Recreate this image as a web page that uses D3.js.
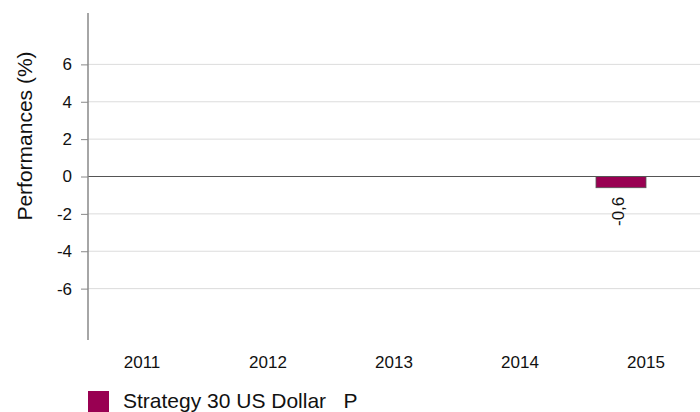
<!DOCTYPE html>
<html>
<head>
<meta charset="utf-8">
<script src="https://cdn.jsdelivr.net/npm/d3@7"></script>
<style>
  body { margin: 0; background: #fff; }
  svg { display: block; font-family: Arial, "Liberation Sans", sans-serif; }
</style>
</head>
<body>
<svg id="chart" width="700" height="412"></svg>
<script>
// data
const years = ["2011", "2012", "2013", "2014", "2015"]
const performances = [null, null, null, null, -0.6]
const yTicks = [-6, -4, -2, 0, 2, 4, 6]
const seriesName = "Strategy 30 US Dollar   P"

const width = 700, height = 412
const svg = d3.select("#chart")
const barColor = "#990052"

const x = d3.scalePoint().domain(years).range([142, 646])
const y = d3.scaleLinear().domain([-8.75, 8.75]).range([340, 13])
const barW = 50

// grid lines
svg.append("g")
    .selectAll("line")
    .data(yTicks.filter(d => d !== 0))
    .enter()
    .append("line")
    .attr("x1", 88).attr("x2", width)
    .attr("y1", d => y(d)).attr("y2", d => y(d))
    .attr("stroke", "#dcdcdc")
    .attr("stroke-width", 1)

// bars
const bars = years.map((yr, i) => ({ year: yr, value: performances[i] })).filter(d => d.value !== null)

svg.append("g")
    .selectAll("rect")
    .data(bars)
    .enter()
    .append("rect")
    .attr("x", d => x(d.year) - barW)
    .attr("y", d => y(Math.max(0, d.value)))
    .attr("width", barW)
    .attr("height", d => Math.abs(y(d.value) - y(0)))
    .attr("fill", barColor)
    .attr("stroke", "#555")
    .attr("stroke-width", 0.8)

// zero line
svg.append("line")
    .attr("x1", 88).attr("x2", width)
    .attr("y1", y(0)).attr("y2", y(0))
    .attr("stroke", "#555")
    .attr("stroke-width", 1)

// value labels
svg.append("g")
    .selectAll("text")
    .data(bars)
    .enter()
    .append("text")
    .attr("transform", d => `translate(${x(d.year) - barW / 2 - 1},${y(d.value) + 9}) rotate(-90)`)
    .attr("text-anchor", "end")
    .attr("dominant-baseline", "middle")
    .attr("font-size", 17)
    .attr("fill", "#111")
    .text(d => String(d.value).replace(".", ","))

// y axis
const yAxis = svg.append("g")
    .attr("transform", "translate(88,0)")
    .call(d3.axisLeft(y).tickValues(yTicks).tickSize(7).tickPadding(9).tickFormat(d => String(d)))
yAxis.select(".domain").attr("d", `M0,${y.range()[0]}V${y.range()[1]}`).attr("stroke", "#888").attr("stroke-width", 1.5)
yAxis.selectAll(".tick line").attr("stroke", "#888")
yAxis.selectAll(".tick text").attr("font-size", 17).attr("fill", "#111").attr("font-family", "Arial, 'Liberation Sans', sans-serif")

// y title
svg.append("text")
    .attr("transform", "translate(26,136) rotate(-90)")
    .attr("text-anchor", "middle")
    .attr("dominant-baseline", "middle")
    .attr("font-size", 21)
    .attr("fill", "#111")
    .text("Performances (%)")

// x labels
svg.append("g")
    .selectAll("text")
    .data(years)
    .enter()
    .append("text")
    .attr("x", d => x(d))
    .attr("y", 368)
    .attr("text-anchor", "middle")
    .attr("font-size", 17)
    .attr("fill", "#111")
    .text(d => d)

// legend
svg.append("rect")
    .attr("x", 88).attr("y", 391)
    .attr("width", 21).attr("height", 21)
    .attr("fill", barColor)
svg.append("text")
    .attr("x", 123).attr("y", 408)
    .attr("font-size", 21)
    .attr("fill", "#111")
    .attr("xml:space", "preserve")
    .style("white-space", "pre")
    .text(seriesName)
</script>
</body>
</html>
